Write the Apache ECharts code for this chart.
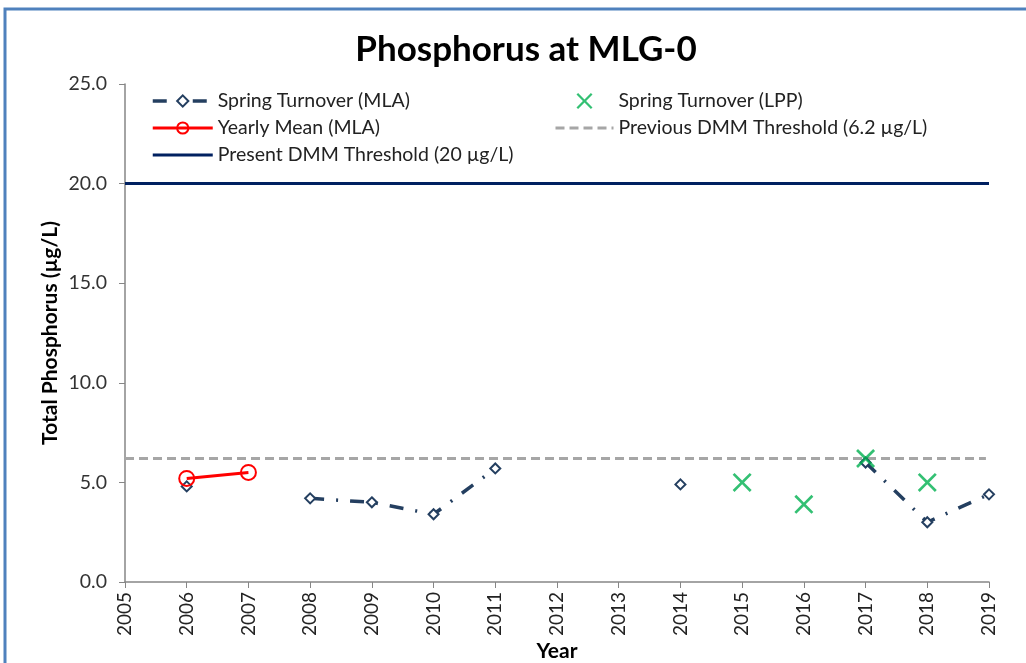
<!DOCTYPE html>
<html><head><meta charset="utf-8">
<script src="https://cdn.jsdelivr.net/npm/echarts@6/dist/echarts.min.js"></script>
<style>html,body{margin:0;padding:0;background:#fff}#c{width:1026px;height:663px}</style>
</head><body><div id="c"></div>
<script>
const years = [2005,2006,2007,2008,2009,2010,2011,2012,2013,2014,2015,2016,2017,2018,2019];
const yTicks = [0,5,10,15,20,25];
const springMLA = [null,4.8,null,4.2,4.0,3.4,5.7,null,null,4.9,null,null,6.0,3.0,4.4];
const springLPP = [null,null,null,null,null,null,null,null,null,null,5.0,3.9,6.2,5.0,null];
const yearlyMean = [null,5.2,5.5,null,null,null,null,null,null,null,null,null,null,null,null];
const prevThreshold = 6.2;
const presentThreshold = 20;

const F = 'Lato, "Open Sans", sans-serif';
const pair = arr => years.map((y,i)=>[y,arr[i]]);
const xPath = 'path://M0,2L2,0L10,8L18,0L20,2L12,10L20,18L18,20L10,12L2,20L0,18L8,10Z';
const noSym = {opacity:0};

const chart = echarts.init(document.getElementById('c'));
chart.setOption({
  animation:false,
  title:{text:'Phosphorus at MLG-0',left:521,top:27,textAlign:'center',
    textStyle:{fontFamily:F,fontWeight:'bold',fontSize:35,color:'#000'}},
  graphic:[{type:'rect',shape:{x:5,y:9,width:1200,height:900},
    style:{fill:'none',stroke:'#4F81BD',lineWidth:3},silent:true}],
  grid:{left:125,right:37,top:84,bottom:81,outerBoundsMode:'none',containLabel:false},
  legend:[
    {left:146,top:86,orient:'vertical',itemGap:7,itemWidth:60,itemHeight:14,
     textStyle:{fontFamily:F,fontSize:19.5,color:'#222'},
     data:[{name:'Spring Turnover (MLA)',lineStyle:{width:3.5}},
       {name:'Yearly Mean (MLA)',lineStyle:{width:3}},
       {name:'Present DMM Threshold (20 µg/L)',itemStyle:noSym,lineStyle:{width:3}}]},
    {left:549,top:86,orient:'vertical',itemGap:7,itemWidth:58,itemHeight:16,
     textStyle:{fontFamily:F,fontSize:19.5,color:'#222'},
     data:['Spring Turnover (LPP)',
       {name:'Previous DMM Threshold (6.2 µg/L)',itemStyle:noSym,lineStyle:{width:3}}]}
  ],
  xAxis:{type:'value',min:2005,max:2019,interval:1,
    name:'Year',nameLocation:'middle',nameGap:59,nameMoveOverlap:false,
    nameTextStyle:{fontFamily:F,fontWeight:'bold',fontSize:21,color:'#000'},
    axisLine:{lineStyle:{color:'#868686',width:1.5}},
    axisTick:{show:true,length:6,lineStyle:{color:'#868686'}},
    axisLabel:{rotate:90,margin:10,fontFamily:F,fontSize:19,color:'#222',
      formatter:v=>years.includes(v)?String(v):''},
    splitLine:{show:false}},
  yAxis:{type:'value',min:0,max:25,interval:5,
    name:'Total Phosphorus (µg/L)',nameLocation:'middle',nameGap:64,nameMoveOverlap:false,
    nameTextStyle:{fontFamily:F,fontWeight:'bold',fontSize:21,color:'#000'},
    axisLine:{show:true,lineStyle:{color:'#868686',width:1.5}},
    axisTick:{show:true,length:6,lineStyle:{color:'#868686'}},
    axisLabel:{margin:18,fontFamily:F,fontSize:19.5,color:'#333',
      formatter:v=>yTicks.includes(v)?v.toFixed(1):''},
    splitLine:{show:false}},
  series:[
    {name:'Present DMM Threshold (20 µg/L)',type:'line',symbol:'none',
     data:[[years[0],presentThreshold],[years[years.length-1],presentThreshold]],
     lineStyle:{color:'#002060',width:3},itemStyle:{color:'#002060'},z:1},
    {name:'Previous DMM Threshold (6.2 µg/L)',type:'line',symbol:'none',
     data:[[years[0],prevThreshold],[2018.95,prevThreshold]],
     lineStyle:{color:'#A6A6A6',width:3,type:[9,5]},itemStyle:{color:'#A6A6A6'},z:1},
    {name:'Spring Turnover (MLA)',type:'line',data:pair(springMLA),connectNulls:false,
     symbol:'diamond',symbolSize:10,showAllSymbol:true,
     lineStyle:{color:'#243F60',width:3.5,type:[14,12,2,12]},
     itemStyle:{color:'#fff',borderColor:'#243F60',borderWidth:2},z:3},
    {name:'Yearly Mean (MLA)',type:'line',data:pair(yearlyMean),
     symbol:'circle',symbolSize:15,
     lineStyle:{color:'#FF0000',width:3},
     itemStyle:{color:'rgba(255,255,255,0)',borderColor:'#FF0000',borderWidth:2},z:4},
    {name:'Spring Turnover (LPP)',type:'scatter',data:pair(springLPP).filter(d=>d[1]!==null),
     symbol:xPath,symbolSize:19,itemStyle:{color:'#00B050'},z:5}
  ]
});
</script></body></html>
